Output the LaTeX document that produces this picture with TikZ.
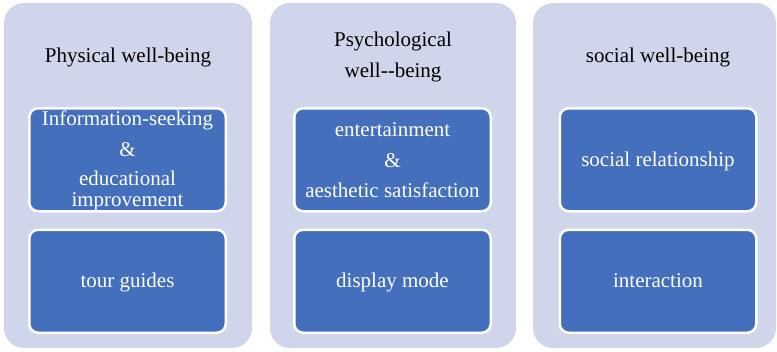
\documentclass[tikz,border=0pt]{standalone}
\usepackage{fontspec}
\setmainfont{Liberation Serif}
\definecolor{panelfill}{RGB}{207,213,234}
\definecolor{boxfill}{RGB}{68,111,189}
\begin{document}
\begin{tikzpicture}[x=1pt,y=-1pt,
  panel/.style={rectangle, rounded corners=20pt, fill=panelfill, draw=none,
    minimum width=#1, minimum height=345pt, inner sep=0pt},
  itembox/.style={rectangle, rounded corners=9pt, fill=boxfill, draw=white,
    line width=2.5pt, minimum width=196.5pt, minimum height=103pt, inner sep=0pt},
  heading/.style={font=\fontsize{21}{21}\selectfont, text=black, anchor=base, inner sep=0pt},
  itemtext/.style={font=\fontsize{21}{21}\selectfont, text=white, anchor=base, inner sep=0pt}]
\useasboundingbox (0,0) rectangle (777,351);

% three background panels
\node[panel=248pt] (physical) at (128,175.5) {};
\node[panel=246pt] (psych) at (393,175.5) {};
\node[panel=243pt] (social) at (654.5,175.5) {};

% panel headings
\node[heading] (hphys) at (128,62) {Physical well-being};
\node[heading] (hpsyA) at (393,46) {Psychological};
\node[heading] (hpsyB) at (393,77) {well{-}{-}being};
\node[heading] (hsoc) at (658,62) {social well-being};

% item boxes
\node[itembox] (info) at (127.5,159.75) {};
\node[itembox] (guides) at (127.5,281.25) {};
\node[itembox] (enter) at (392.5,159.75) {};
\node[itembox] (display) at (392.5,281.25) {};
\node[itembox] (relation) at (658,159.75) {};
\node[itembox] (interact) at (658,281.25) {};

% item texts
\node[itemtext] (infoA) at (127.5,125) {Information-seeking};
\node[itemtext] (infoB) at (127.5,156) {\&};
\node[itemtext] (infoC) at (127.5,185) {educational};
\node[itemtext] (infoD) at (127.5,206) {improvement};
\node[itemtext] (guidesT) at (127.5,287) {tour guides};

\node[itemtext] (enterA) at (392.5,136) {entertainment};
\node[itemtext] (enterB) at (392.5,167) {\&};
\node[itemtext] (enterC) at (392.5,197) {aesthetic satisfaction};
\node[itemtext] (displayT) at (392.5,287) {display mode};

\node[itemtext] (relationT) at (658,166) {social relationship};
\node[itemtext] (interactT) at (658,287) {interaction};
\end{tikzpicture}
\end{document}
